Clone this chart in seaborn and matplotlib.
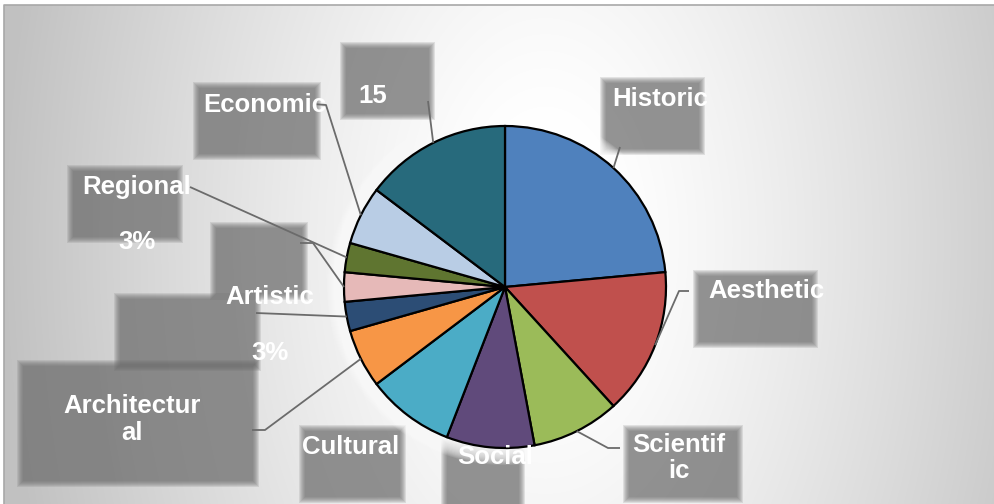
import numpy as np
import matplotlib
matplotlib.use("Agg")
import matplotlib.pyplot as plt
import seaborn as sns
from matplotlib.patches import Rectangle, Circle

# ---------------- data ----------------
categories = ["Historic", "Aesthetic", "Scientific", "Social", "Cultural",
              "Architectural", "Artistic", "(unlabelled)", "Regional", "Economic", "15"]
values = [8, 5, 3, 3, 3, 2, 1, 1, 1, 2, 5]
colors = ["#4F81BD", "#C0504D", "#9BBB59", "#604A7B", "#4BACC6",
          "#F79646", "#2C4D75", "#E6B9B8", "#5F7530", "#B9CDE5", "#276A7C"]

# label texts as shown (pixel layout: x centre, baseline y)
label_lines = {
    0: [("Historic", 660, 106)],
    1: [("Aesthetic", 766, 298)],
    2: [("Scientif", 679, 452), ("ic", 679, 478)],
    3: [("Social", 495, 464)],
    4: [("Cultural", 351, 454)],
    5: [("Architectur", 132, 413), ("al", 132, 440)],
    6: [("Artistic", 270, 304), ("3%", 270, 360)],
    8: [("Regional", 137, 194), ("3%", 137, 249)],
    9: [("Economic", 265, 112)],
    10: [("15", 373, 103)],
}
# label boxes (x0, y0, x1, y1) in pixels
label_boxes = {
    10: (343, 45, 432, 117),
    9: (196, 85, 318, 157),
    0: (603, 80, 702, 152),
    1: (696, 273, 815, 345),
    2: (626, 428, 740, 500),
    3: (444, 441, 522, 512),
    4: (302, 428, 403, 500),
    7: (213, 225, 305, 297),
    6: (117, 296, 258, 368),
    5: (20, 363, 256, 484),
    8: (70, 168, 180, 240),
}
# leader lines: start points at the boxes (pixels); end = wedge mid-point
leaders = {
    0: [(620, 147)],
    1: [(689, 291), (679, 291)],
    2: [(620, 448), (608, 448)],
    5: [(252, 430), (265, 430)],
    6: [(256, 313)],
    7: [(300, 243), (313, 243)],
    8: [(190, 187)],
    9: [(313, 104), (326, 105)],
    10: [(428, 101)],
}

# ---------------- style ----------------
sns.set_theme(style="white")
plt.rcParams['font.family'] = ['Liberation Sans', 'DejaVu Sans']

W, H = 994, 504
fig = plt.figure(figsize=(W / 100, H / 100), dpi=100)
fig.patch.set_facecolor("white")
ax = fig.add_axes([0, 0, 1, 1])


def P(x, y):
    return (x, H - y)


# background radial gradient
x0b, y0b = 4, 5
xs = np.arange(x0b, W)
ys = np.arange(y0b, H)
X, Y = np.meshgrid(xs, ys)
d = np.sqrt(((X - 545) / 540.0) ** 2 + ((Y - 240) / 900.0) ** 2)
g = 1 - 0.24 * np.clip((d - 0.12) / 0.88, 0, 1) ** 1.2
img = np.dstack([g, g, g])
ax.imshow(img, extent=(x0b, W, 0, H - y0b), origin="upper", zorder=0,
          interpolation="bilinear", aspect="auto")
ax.plot([x0b, x0b, W], [0, H - y0b, H - y0b], color="#a8a8a8", lw=1.2, zorder=0.5)

# label boxes with soft (blurred) edges
for i, (bx0, by0, bx1, by1) in label_boxes.items():
    for inset in range(-3, 4):
        ax.add_patch(Rectangle((bx0 + inset, H - by1 + inset),
                               (bx1 - bx0) - 2 * inset, (by1 - by0) - 2 * inset,
                               facecolor="#6a6a6a", edgecolor="none", alpha=0.16, zorder=1))

# pie
cx, cy = P(505, 287)
R = 161
for k in range(1, 18):
    ax.add_patch(Circle((cx, cy), R + k, facecolor="white", edgecolor="none",
                        alpha=0.12, zorder=2))

wedges, _ = ax.pie(values, colors=colors, startangle=90, counterclock=False,
                   center=(cx, cy), radius=R,
                   wedgeprops=dict(edgecolor="black", linewidth=1.6, zorder=3))

# leader lines
for i, pts in leaders.items():
    w = wedges[i]
    mid = np.deg2rad((w.theta1 + w.theta2) / 2)
    end = (cx + R * np.cos(mid), cy + R * np.sin(mid))
    pp = [P(*p) for p in pts] + [end]
    ax.plot([p[0] for p in pp], [p[1] for p in pp], color="#6b6b6b", lw=1.3,
            zorder=4, solid_capstyle="butt")

# label text
for i, lines in label_lines.items():
    for txt, tx, ty in lines:
        ax.text(tx, H - ty, txt, ha="center", va="baseline", color="white",
                fontsize=18.5, fontweight="bold", zorder=5)

ax.set_xlim(0, W)
ax.set_ylim(0, H)
ax.set_aspect("auto")
ax.set_axis_off()

fig.savefig("out.png", dpi=100, facecolor="white")
